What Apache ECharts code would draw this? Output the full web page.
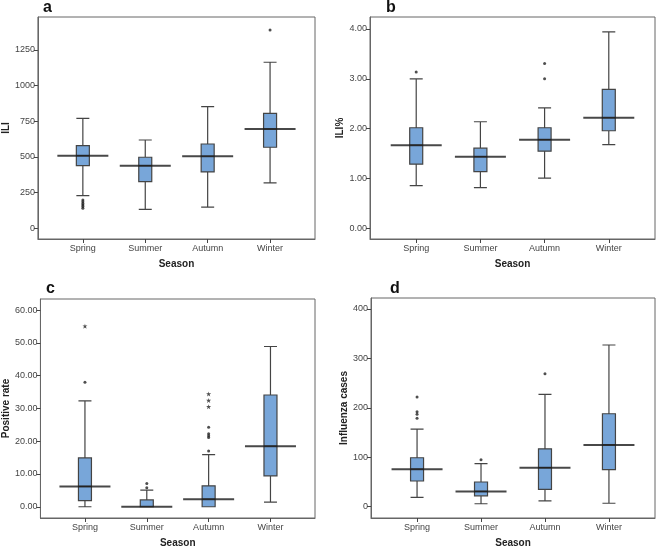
<!DOCTYPE html>
<html>
<head>
<meta charset="utf-8">
<script src="https://cdn.jsdelivr.net/npm/echarts@6/dist/echarts.min.js"></script>
<style>
  html, body { margin: 0; padding: 0; background: #fff; }
  #main { width: 660px; height: 549px; }
</style>
</head>
<body>
<div id="main"></div>
<script>
  'use strict';

  var seasons = ['Spring', 'Summer', 'Autumn', 'Winter'];

  // a - ILI  [min, Q1, median, Q3, max]
  var iliBox = [[229, 439, 509, 579, 771], [133, 327, 439, 498, 619], [149, 395, 505, 591, 853], [318, 568, 696, 806, 1164]];
  var iliOut = [[0, 198], [0, 186], [0, 174], [0, 163], [0, 152], [0, 140], [3, 1390]];
  var iliTicks = [0, 250, 500, 750, 1000, 1250];

  // b - ILI%
  var iliPctBox = [[0.86, 1.29, 1.67, 2.02, 3.0], [0.82, 1.14, 1.44, 1.61, 2.14], [1.01, 1.55, 1.78, 2.02, 2.42], [1.68, 1.96, 2.22, 2.79, 3.94]];
  var iliPctOut = [[0, 3.14], [2, 3.0], [2, 3.31]];
  var iliPctTicks = [0, 1, 2, 3, 4];

  // c - positive rate
  var posBox = [[0, 1.9, 6.2, 14.9, 32.3], [0, 0, 0, 2.1, 5.1], [0, 0, 2.3, 6.4, 15.9], [1.4, 9.4, 18.5, 34.1, 48.9]];
  var posOut = [[0, 38.0], [1, 7.1], [1, 5.8], [2, 24.3], [2, 22.3], [2, 21.7], [2, 21.1], [2, 17.0]];
  var posExt = [[0, 55.1], [2, 34.4], [2, 32.4], [2, 30.5]];
  var posTicks = [0, 10, 20, 30, 40, 50, 60];

  // d - influenza cases
  var fluBox = [[19, 52, 76, 99, 157], [6, 22, 31, 50, 87], [12, 35, 79, 117, 227], [7, 75, 125, 188, 327]];
  var fluOut = [[0, 222], [0, 192], [0, 187], [0, 179], [1, 95], [2, 269]];
  var fluTicks = [0, 100, 200, 300, 400];

  var FONT = 'Liberation Sans, Arial, sans-serif';
  var seasonIdx = [0, 1, 2, 3];

  var panels = [
    { tag: 'a', grid: { left: 31, top: 17, width: 284, height: 222 }, name: 'ILI', gap: 24, min: -75, max: 1481, ticks: iliTicks, dec: 0, box: iliBox, out: iliOut, ext: [] },
    { tag: 'b', grid: { left: 370, top: 17, width: 285, height: 222 }, name: 'ILI%', gap: 23, min: -0.21, max: 4.24, ticks: iliPctTicks, dec: 2, box: iliPctBox, out: iliPctOut, ext: [] },
    { tag: 'c', grid: { left: 32, top: 299, width: 283, height: 223 }, name: 'Positive rate', gap: 26, min: -3.43, max: 63.4, ticks: posTicks, dec: 2, box: posBox, out: posOut, ext: posExt },
    { tag: 'd', grid: { left: 371, top: 298, width: 284, height: 223 }, name: 'Influenza cases', gap: 20, min: -22.8, max: 422, ticks: fluTicks, dec: 0, box: fluBox, out: fluOut, ext: [] }
  ];

  var option = {
    animation: false,
    backgroundColor: '#fff',
    textStyle: { fontFamily: FONT },
    title: [],
    grid: [],
    xAxis: [],
    yAxis: [],
    series: []
  };

  var titlePos = [[43, 0], [386, 0], [46, 281], [390, 281]];

  panels.forEach(function (p, i) {
    option.title.push({
      text: p.tag,
      left: titlePos[i][0],
      top: titlePos[i][1],
      padding: 0,
      textStyle: { fontSize: 16, fontWeight: 'bold', color: '#111', fontFamily: FONT }
    });

    option.grid.push({
      left: p.grid.left, top: p.grid.top, width: p.grid.width, height: p.grid.height,
      show: true, borderColor: '#666', borderWidth: 1, backgroundColor: '#fff'
    });

    option.xAxis.push({
      type: 'value',
      gridIndex: i,
      min: -0.72,
      max: 3.72,
      name: 'Season',
      nameLocation: 'middle',
      nameGap: 20,
      nameTextStyle: { fontSize: 10, fontWeight: 'bold', color: '#222', fontFamily: FONT },
      splitLine: { show: false },
      axisLine: { show: true, onZero: false, lineStyle: { color: '#666' } },
      axisTick: { show: true, length: 4, customValues: seasonIdx, lineStyle: { color: '#444' } },
      axisLabel: {
        customValues: seasonIdx,
        fontSize: 9, color: '#444', margin: 5,
        formatter: function (v) { return seasons[Math.round(v)]; }
      }
    });

    option.yAxis.push({
      type: 'value',
      gridIndex: i,
      min: p.min,
      max: p.max,
      name: p.name,
      nameLocation: 'middle',
      nameRotate: 90,
      nameGap: p.gap,
      nameTextStyle: { fontSize: 10, fontWeight: 'bold', color: '#222', fontFamily: FONT },
      splitLine: { show: false },
      axisLine: { show: true, onZero: false, lineStyle: { color: '#666' } },
      axisTick: { show: true, length: 4, customValues: p.ticks, lineStyle: { color: '#444' } },
      axisLabel: {
        customValues: p.ticks,
        fontSize: 9, color: '#444', margin: 3,
        formatter: (function (dec) {
          return function (v) { return v.toFixed(dec); };
        })(p.dec)
      }
    });

    // boxes with whiskers
    option.series.push({
      type: 'boxplot',
      xAxisIndex: i, yAxisIndex: i,
      layout: 'horizontal',
      boxWidth: [13, 13],
      itemStyle: { color: '#78a6d9', borderColor: '#444', borderWidth: 1.2 },
      data: p.box.map(function (b, k) { return [k].concat(b); })
    });

    // long median bars
    option.series.push({
      type: 'scatter',
      xAxisIndex: i, yAxisIndex: i,
      symbol: 'rect',
      symbolSize: [51, 2],
      itemStyle: { color: '#1a1a1a' },
      data: p.box.map(function (b, k) { return [k, b[2]]; }),
      z: 5
    });

    // outliers
    option.series.push({
      type: 'scatter',
      xAxisIndex: i, yAxisIndex: i,
      symbol: 'circle',
      symbolSize: 3,
      itemStyle: { color: '#222' },
      data: p.out,
      z: 5
    });

    // extremes
    if (p.ext.length) {
      option.series.push({
        type: 'scatter',
        xAxisIndex: i, yAxisIndex: i,
        symbol: 'path://M0,-5L1,-1.5L5,-1.5L2,0.8L3.2,5L0,2.5L-3.2,5L-2,0.8L-5,-1.5L-1,-1.5Z',
        symbolSize: 5,
        itemStyle: { color: '#222' },
        data: p.ext,
        z: 5
      });
    }
  });

  var myChart = echarts.init(document.getElementById('main'));
  myChart.setOption(option);
</script>
</body>
</html>
